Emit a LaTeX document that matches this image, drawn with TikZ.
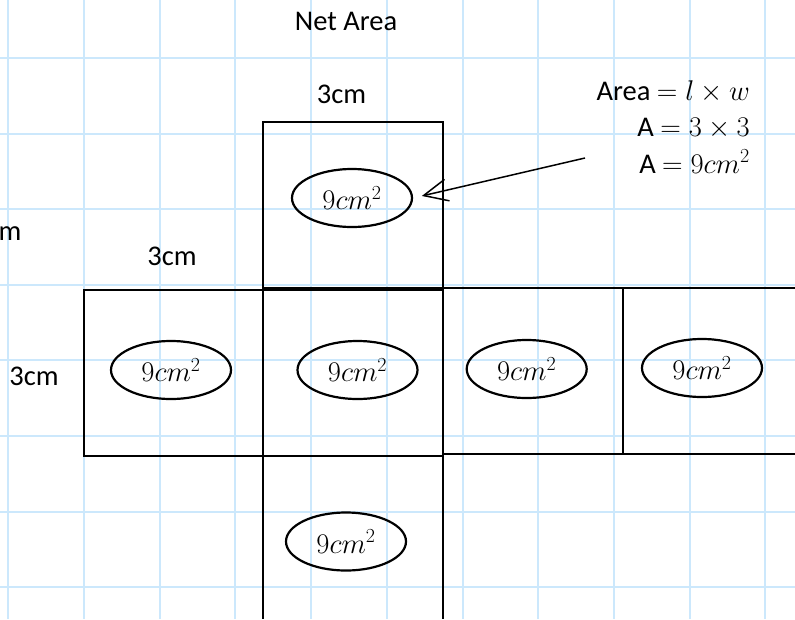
\RequirePackage{fix-cm}
\documentclass[tikz,border=0pt]{standalone}
\usepackage{fontspec}
\setmainfont{Carlito}
\usetikzlibrary{shapes.geometric,arrows.meta}
\definecolor{gridblue}{RGB}{204,232,252}
\begin{document}
\begin{tikzpicture}[x=1pt,y=-1pt,
  netline/.style={line width=2pt,black},
  gridline/.style={gridblue,line width=2pt},
  area/.style={ellipse,draw,line width=2.2pt,minimum width=120pt,minimum height=58pt,inner sep=0pt,font=\fontsize{28.5}{34}\selectfont},
  lbl/.style={font=\fontsize{28.5}{34}\selectfont,inner sep=0pt}]
\useasboundingbox (0,0) rectangle (795,619);
\fill[white] (0,0) rectangle (795,619);
% grid paper
\foreach \i in {0,...,10} \draw[gridline] ({8.3+75.7*\i},0) -- ({8.3+75.7*\i},619);
\foreach \j in {0,...,7} \draw[gridline] (0,{58+75.6*\j}) -- (795,{58+75.6*\j});
% net squares
\draw[netline] (263,122) rectangle (443,288);
\draw[netline] (84,290) rectangle (263,456);
\draw[netline] (263,290) rectangle (443,456);
\draw[netline] (443,288) rectangle (623,454);
\draw[netline] (623,288) -- (795,288);
\draw[netline] (623,454) -- (795,454);
\draw[netline] (263,456) -- (263,619);
\draw[netline] (443,456) -- (443,619);
% labels
\node[lbl,anchor=base] (title) at (346,30) {Net Area};
\node[lbl,anchor=base] (ltop) at (341.5,103.3) {3cm};
\node[lbl,anchor=base] (lleft) at (172,265.7) {3cm};
\node[lbl,anchor=base east] (lcut) at (21.7,240) {m};
\node[lbl,anchor=base] (lside) at (34,385) {3cm};
% formula
\node[lbl,anchor=base east] (f1) at (750,100) {Area $= l \times w$};
\node[lbl,anchor=base east] (f2) at (750,136.7) {A $= 3 \times 3$};
\node[lbl,anchor=base east] (f3) at (750,173.3) {A $= 9cm^2$};
% areas
\node[area] (e1) at (352,198) {$9cm^2$};
\node[area] (e2) at (171,370) {$9cm^2$};
\node[area] (e3) at (357.5,370) {$9cm^2$};
\node[area] (e4) at (526.7,369) {$9cm^2$};
\node[area] (e5) at (702,368) {$9cm^2$};
\node[area] (e6) at (346,541.5) {$9cm^2$};
% arrow
\coordinate (tail) at (585,158);
\draw[line width=1.5pt,-{Straight Barb[length=24pt,width=22pt]},shorten >=9pt] (tail) -- (e1.east);
\end{tikzpicture}
\end{document}
